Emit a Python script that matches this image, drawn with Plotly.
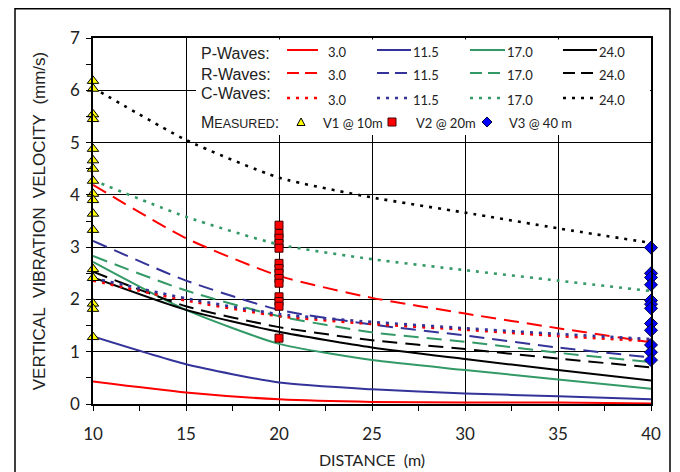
import plotly.graph_objects as go

# ---------------- data ----------------
distance = [10, 15, 20, 25, 30, 35, 40]

p_waves = {
    "3.0":  [0.43, 0.22, 0.09, 0.04, 0.03, 0.03, 0.01],
    "11.5": [1.29, 0.76, 0.41, 0.28, 0.20, 0.15, 0.09],
    "17.0": [2.72, 1.80, 1.15, 0.84, 0.65, 0.47, 0.29],
    "24.0": [2.42, 1.80, 1.38, 1.08, 0.86, 0.65, 0.45],
}
r_waves = {
    "3.0":  [4.19, 3.17, 2.45, 2.03, 1.73, 1.45, 1.18],
    "11.5": [3.12, 2.36, 1.80, 1.52, 1.31, 1.08, 0.89],
    "17.0": [2.83, 2.17, 1.68, 1.37, 1.19, 0.98, 0.80],
    "24.0": [2.53, 1.87, 1.47, 1.22, 1.05, 0.87, 0.70],
}
c_waves = {
    "3.0":  [2.36, 1.98, 1.68, 1.53, 1.42, 1.30, 1.20],
    "11.5": [2.41, 2.02, 1.72, 1.57, 1.45, 1.34, 1.24],
    "17.0": [4.28, 3.58, 3.05, 2.77, 2.56, 2.36, 2.16],
    "24.0": [6.05, 5.05, 4.33, 3.95, 3.66, 3.36, 3.08],
}

v1_dist = 10
v1_values = [6.18, 6.03, 5.54, 5.45, 4.88, 4.66, 4.50, 4.27, 4.02, 3.90,
             3.64, 3.33, 2.58, 2.41, 1.92, 1.82, 1.28]
v2_dist = 20
v2_values = [3.42, 3.26, 3.17, 3.07, 2.98, 2.69, 2.59, 2.50, 2.40, 2.31,
             2.05, 1.96, 1.87, 1.26]
v3_dist = 40
v3_values = [2.99, 2.50, 2.42, 2.28, 1.98, 1.91, 1.83, 1.54, 1.41, 1.13,
             0.99, 0.84]

x_ticks = [10, 15, 20, 25, 30, 35, 40]
y_ticks = [0, 1, 2, 3, 4, 5, 6, 7]

# ---------------- styles ----------------
colors = {"3.0": "#FF0000", "11.5": "#333399", "17.0": "#339966", "24.0": "#000000"}
dash_r = "15px,8px"
dash_c = "3px,6px"
width_c = 2.6

OFF = 8  # page body margin
W, H = 680 - OFF, 472 - OFF
# plot area in page coordinates: x 93..651, y 38..404
L, R, T, B = 93 - OFF, 680 - 651 - OFF + 8 - 8, 38 - OFF, 472 - 404
R = W - (651 - OFF)
B = H - (404 - OFF)
PW, PH = W - L - R, H - T - B


def px(x):
    return (x - OFF - L) / PW


def py(y):
    return (H - B - (y - OFF)) / PH


fig = go.Figure()

for group, dash in ((p_waves, "solid"), (r_waves, dash_r), (c_waves, dash_c)):
    for key, vals in group.items():
        fig.add_trace(go.Scatter(
            x=distance, y=vals, mode="lines",
            line=dict(color=colors[key], width=(width_c if dash == dash_c else 2),
                      dash=dash, shape="spline", smoothing=0.6),
            showlegend=False, hoverinfo="skip"))

fig.add_trace(go.Scatter(
    x=[v1_dist] * len(v1_values), y=v1_values, mode="markers",
    marker=dict(symbol="triangle-up", size=10, color="#FFFF00",
                line=dict(color="#000000", width=1)),
    cliponaxis=False, showlegend=False))
fig.add_trace(go.Scatter(
    x=[v2_dist] * len(v2_values), y=v2_values, mode="markers",
    marker=dict(symbol="square", size=8, color="#FF0000",
                line=dict(color="#400000", width=1)),
    cliponaxis=False, showlegend=False))
fig.add_trace(go.Scatter(
    x=[v3_dist] * len(v3_values), y=v3_values, mode="markers",
    marker=dict(symbol="diamond", size=10, color="#0000FF",
                line=dict(color="#000040", width=1)),
    cliponaxis=False, showlegend=False))

shapes = []
annotations = []

# outer frame
shapes.append(dict(type="rect", xref="paper", yref="paper",
                   x0=px(15), x1=px(670), y0=py(495), y1=py(8.7),
                   line=dict(color="#000000", width=1.5), layer="above"))
# legend box
shapes.append(dict(type="rect", xref="paper", yref="paper",
                   x0=px(196), x1=px(650), y0=py(135), y1=py(39.5),
                   line=dict(width=0), fillcolor="#FFFFFF", layer="above"))

row_names = ["P-Waves:", "R-Waves:", "C-Waves:"]
row_text_y = [53, 74, 94]
row_line_y = [50, 73, 98]
row_dash = ["solid", dash_r, dash_c]
col_x = [(287, 318), (377, 411), (470, 505), (563, 597)]
col_keys = ["3.0", "11.5", "17.0", "24.0"]
col_label_x = [326, 411, 505, 597]

for name, ty, ly, dsh in zip(row_names, row_text_y, row_line_y, row_dash):
    annotations.append(dict(text=name, xref="paper", yref="paper",
                            x=px(199), y=py(ty), xanchor="left", yanchor="middle",
                            showarrow=False,
                            font=dict(family="Liberation Sans, Arial", size=16, color="#222222")))
    for (x0, x1), key, lx in zip(col_x, col_keys, col_label_x):
        shapes.append(dict(type="line", xref="paper", yref="paper",
                           x0=px(x0), x1=px(x1), y0=py(ly), y1=py(ly),
                           line=dict(color=colors[key], width=(width_c if dsh == dash_c else 2),
                                     dash=("12px,6px" if dsh == dash_r else dsh)),
                           layer="above"))
        annotations.append(dict(text=key, xref="paper", yref="paper",
                                x=px(lx), y=py(ly + 2), xanchor="left", yanchor="middle",
                                showarrow=False,
                                font=dict(family="Lato", size=13, color="#222222")))

annotations.append(dict(
    text="M<span style='font-size:12.5px'>EASURED</span>:", xref="paper", yref="paper",
    x=px(199), y=py(122), xanchor="left", yanchor="middle", showarrow=False,
    font=dict(family="Liberation Sans, Arial", size=16, color="#222222")))

# measured legend glyphs
tx, ty = 301, 122
shapes.append(dict(type="path", xref="paper", yref="paper",
                   path=f"M {px(tx-4)} {py(ty+3.5)} L {px(tx+4)} {py(ty+3.5)} L {px(tx)} {py(ty-4)} Z",
                   fillcolor="#FFFF00", line=dict(color="#000000", width=1), layer="above"))
sx, sy = 392, 122
shapes.append(dict(type="rect", xref="paper", yref="paper",
                   x0=px(sx-4), x1=px(sx+4), y0=py(sy+4), y1=py(sy-4),
                   fillcolor="#FF0000", line=dict(color="#400000", width=1), layer="above"))
dx, dy = 487, 122
shapes.append(dict(type="path", xref="paper", yref="paper",
                   path=f"M {px(dx-5)} {py(dy)} L {px(dx)} {py(dy-5)} L {px(dx+5)} {py(dy)} L {px(dx)} {py(dy+5)} Z",
                   fillcolor="#0000FF", line=dict(color="#000040", width=1), layer="above"))
for text, x in (("V1 @ 10m", 321), ("V2 @ 20m", 414), ("V3 @ 40 m", 507)):
    annotations.append(dict(text=text, xref="paper", yref="paper",
                            x=px(x), y=py(123), xanchor="left", yanchor="middle",
                            showarrow=False,
                            font=dict(family="Lato", size=13, color="#222222")))

fig.update_layout(
    width=W, height=H,
    margin=dict(l=L, r=R, t=T, b=B, autoexpand=False),
    paper_bgcolor="#FFFFFF", plot_bgcolor="#FFFFFF",
    shapes=shapes, annotations=annotations,
    showlegend=False,
    xaxis=dict(
        range=[10, 40], tickvals=x_ticks, ticktext=[str(v) for v in x_ticks],
        showgrid=True, gridcolor="#000000", gridwidth=1,
        showline=True, linecolor="#000000", linewidth=1.5, mirror=True,
        ticks="outside", ticklen=5, tickcolor="#000000",
        minor=dict(dtick=2.5, tick0=10, ticks="outside", ticklen=5, tickcolor="#000000", showgrid=False),
        tickfont=dict(family="Lato", size=17, color="#222222"),
        ticklabelstandoff=9,
        title=dict(text="DISTANCE\u00a0\u00a0(m)", standoff=12,
                   font=dict(family="Lato", size=16, color="#222222")),
        zeroline=False,
    ),
    yaxis=dict(
        range=[0, 7], tickvals=y_ticks, ticktext=[str(v) for v in y_ticks],
        showgrid=True, gridcolor="#000000", gridwidth=1,
        showline=True, linecolor="#000000", linewidth=1.5, mirror=True,
        ticks="outside", ticklen=5, tickcolor="#000000",
        minor=dict(dtick=0.5, tick0=0, ticks="outside", ticklen=5, tickcolor="#000000", showgrid=False),
        tickfont=dict(family="Lato", size=17, color="#222222"),
        ticklabelstandoff=3,
        title=dict(text="VERTICAL\u00a0\u00a0VIBRATION\u00a0\u00a0VELOCITY\u00a0\u00a0(mm/s)", standoff=20,
                   font=dict(family="Liberation Sans, Arial", size=17, color="#222222")),
        zeroline=False,
    ),
)

fig.write_html("out.html")
